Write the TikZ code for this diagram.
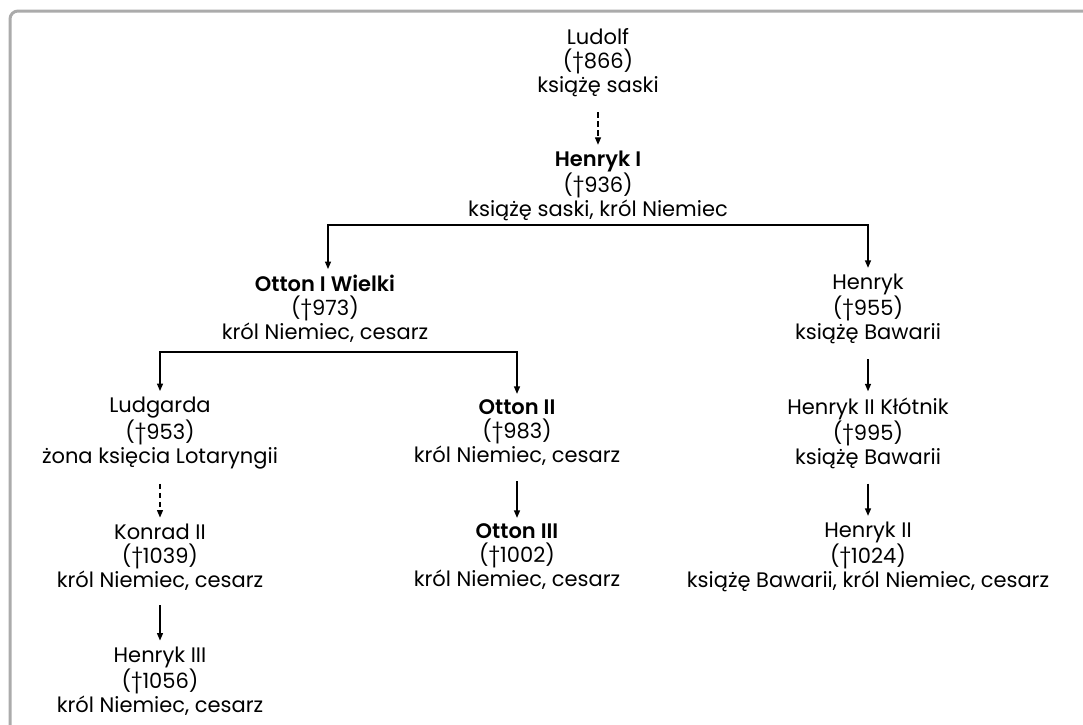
\documentclass[tikz,border=0pt]{standalone}
\usepackage{fontspec}
\setmainfont{Poppins}[BoldFont={Poppins SemiBold}]
\usetikzlibrary{arrows.meta}
\begin{document}
\begin{tikzpicture}[x=1pt,y=-1pt,
  person/.style={align=center, inner sep=0pt, font=\fontsize{21}{24}\selectfont},
  arr/.style={line width=1.3pt, -{Triangle[length=7.5pt,width=6pt]}, shorten >=6pt, shorten <=15pt},
  barr/.style={line width=1.3pt, -{Triangle[length=7.5pt,width=6pt]}, shorten >=6pt},
  darr/.style={arr, dash pattern=on 5.5pt off 3.5pt}]
\useasboundingbox (0,0) rectangle (1083,724);
\draw[line width=3pt, color=black!33, rounded corners=8pt] (10,740) -- (10,11) -- (1100,11);

\node[person] (lud) at (598,63) {Ludolf\\(†866)\\książę saski};
\node[person] (h1) at (598,186) {\textbf{Henryk I}\\(†936)\\książę saski, król Niemiec};
\node[person] (o1) at (325,309) {\textbf{Otton I Wielki}\\(†973)\\król Niemiec, cesarz};
\node[person] (hb) at (868,309) {Henryk\\(†955)\\książę Bawarii};
\node[person] (lg) at (160,433) {Ludgarda\\(†953)\\żona księcia Lotaryngii};
\node[person] (o2) at (517,433) {\textbf{Otton II}\\(†983)\\król Niemiec, cesarz};
\node[person] (hk) at (868,433) {Henryk II Kłótnik\\(†995)\\książę Bawarii};
\node[person] (k2) at (160,557) {Konrad II\\(†1039)\\król Niemiec, cesarz};
\node[person] (o3) at (517,557) {\textbf{Otton III}\\(†1002)\\król Niemiec, cesarz};
\node[person] (h2) at (868,557) {Henryk II\\(†1024)\\książę Bawarii, król Niemiec, cesarz};
\node[person] (h3) at (160,681) {Henryk III\\(†1056)\\król Niemiec, cesarz};

\coordinate (b1) at (598,225);
\coordinate (b2) at (339,352);

\draw[darr] (lud) -- (h1);
\draw[barr] (b1) -| (o1.north -| 328,0);
\draw[barr] (b1) -| (hb);
\draw[barr] (b2) -| (lg);
\draw[barr] (b2) -| (o2);
\draw[arr] (hb) -- (hk);
\draw[arr] (hk) -- (h2);
\draw[darr] (lg) -- (k2);
\draw[arr] (o2) -- (o3);
\draw[arr] (k2) -- (h3);
\end{tikzpicture}
\end{document}
